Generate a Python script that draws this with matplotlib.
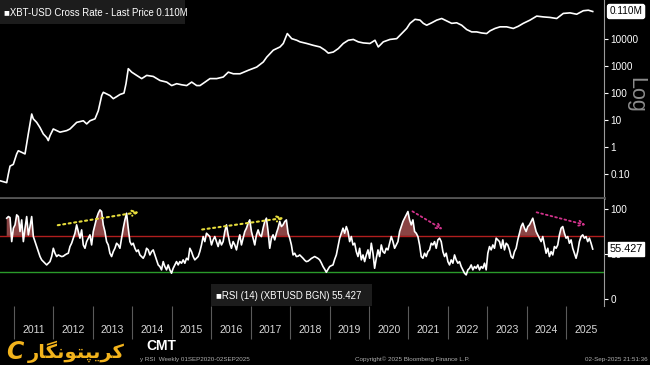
import matplotlib
matplotlib.use("Agg")
import matplotlib.pyplot as plt
from matplotlib.patches import Rectangle
import numpy as np

plt.rcParams['font.family'] = ['Liberation Sans', 'DejaVu Sans']

# XBT-USD price (decimal year, USD)
price_years = [2010.645, 2010.815, 2010.856, 2010.899, 2010.982, 2011.068, 2011.109, 2011.195,
               2011.279, 2011.362, 2011.449, 2011.489, 2011.575, 2011.659, 2011.743, 2011.829,
               2011.869, 2011.913, 2011.996, 2012.082, 2012.166, 2012.336, 2012.419, 2012.589,
               2012.757, 2012.843, 2012.926, 2013.053, 2013.137, 2013.223, 2013.264, 2013.350,
               2013.433, 2013.517, 2013.603, 2013.687, 2013.788, 2013.839, 2013.897, 2013.984,
               2014.110, 2014.237, 2014.364, 2014.531, 2014.701, 2014.871, 2014.997, 2015.124,
               2015.251, 2015.378, 2015.504, 2015.631, 2015.715, 2015.842, 2015.968, 2016.138,
               2016.305, 2016.432, 2016.559, 2016.729, 2016.939, 2017.152, 2017.319, 2017.406,
               2017.573, 2017.743, 2017.826, 2017.928, 2018.039, 2018.166, 2018.250, 2018.419,
               2018.587, 2018.757, 2018.883, 2018.967, 2019.094, 2019.221, 2019.347, 2019.474,
               2019.601, 2019.727, 2019.854, 2020.024, 2020.151, 2020.234, 2020.361, 2020.531,
               2020.701, 2020.828, 2020.954, 2021.038, 2021.165, 2021.292, 2021.375, 2021.461,
               2021.588, 2021.715, 2021.842, 2021.968, 2022.095, 2022.222, 2022.348, 2022.475,
               2022.602, 2022.729, 2022.855, 2022.982, 2023.066, 2023.193, 2023.320, 2023.489,
               2023.657, 2023.783, 2023.910, 2024.080, 2024.250, 2024.417, 2024.587, 2024.757,
               2024.924, 2025.094, 2025.264, 2025.431, 2025.558, 2025.670]
price_values = [0.054, 0.046, 0.095, 0.19, 0.22, 0.54, 0.71, 0.62,
                0.54, 3.0, 16.6, 11.0, 8.1, 5.2, 3.0, 2.2,
                1.7, 2.6, 4.6, 4.0, 3.5, 4.0, 4.6, 8.1,
                9.3, 7.1, 9.3, 11.0, 22, 81, 107, 93,
                81, 62, 74, 89, 100, 224, 813, 603,
                457, 347, 457, 417, 295, 257, 191, 224,
                204, 191, 257, 191, 191, 257, 347, 347,
                398, 603, 525, 525, 708, 933, 1445, 2188,
                3981, 5248, 7079, 16600, 10700, 9330, 8130, 7080,
                6030, 5250, 3980, 3090, 3390, 4570, 7080, 9330,
                10000, 8130, 7410, 7080, 9330, 5250, 8130, 10000,
                10700, 16600, 25700, 39800, 56200, 52500, 39800, 33900,
                41700, 52500, 60300, 49000, 39800, 41700, 33900, 23400,
                19100, 19100, 17400, 16600, 20900, 25700, 29500, 29500,
                25700, 30900, 39800, 52500, 74100, 69200, 66100, 60300,
                93300, 97700, 87100, 117500, 123000, 110000]

# RSI(14) weekly, evenly sampled from late Oct 2010 to 02 Sep 2025
rsi_start, rsi_end = 2010.815, 2025.67
rsi_values = [
    89.7, 91.5, 90.4, 63.7, 78.6, 82.3, 93.4, 91.5, 74.9, 87.8, 63.7, 78.6, 91.5, 71.2, 80.4, 91.5,
    69.3, 63.7, 58.2, 52.6, 47.1, 43.4, 41.5, 39.5, 37.8, 39.7, 41.5, 47.1, 56.3, 50.8, 47.1, 48.9,
    48.0, 47.1, 47.5, 48.9, 50.0, 50.8, 58.2, 61.9, 67.5, 73.0, 82.3, 74.9, 67.5, 76.7, 60.0, 56.3,
    63.7, 67.5, 71.2, 60.0, 74.9, 82.3, 89.7, 95.2, 98.9, 97.1, 82.3, 74.9, 63.7, 60.0, 50.8, 47.1,
    52.6, 56.3, 61.9, 60.0, 56.3, 67.5, 78.6, 87.8, 95.2, 78.6, 63.7, 60.0, 61.9, 56.3, 52.6, 54.5,
    48.9, 47.1, 45.2, 48.9, 56.3, 54.5, 48.9, 52.6, 54.5, 48.9, 43.4, 37.8,
    36.0, 32.3, 41.5, 36.0, 32.3, 37.8, 32.3, 28.6, 34.1, 37.8, 41.5, 37.8, 41.5, 39.7, 43.4, 39.7,
    45.2, 43.4, 56.3, 52.6, 47.1, 43.4, 45.2, 47.1, 52.6, 60.0, 69.3, 63.7, 73.0, 71.2, 69.3, 60.0,
    65.6, 69.3, 63.7, 58.2, 65.6, 60.0, 63.7, 74.9, 82.3, 71.2, 61.9, 56.3, 63.7, 60.0, 54.5, 63.7,
    71.2, 60.0, 67.5, 74.9, 78.6, 84.1, 87.8, 74.9, 67.5, 60.0, 71.2, 76.7, 71.2, 69.3, 78.6, 86.0,
    89.7, 74.9, 56.3, 67.5, 71.2, 65.6, 73.0, 78.6, 86.0, 80.4, 82.3, 86.0, 87.8, 73.0, 67.5, 60.0,
    48.9, 50.8, 47.1, 47.5, 48.9, 47.0, 45.2, 43.0, 41.5, 42.0, 43.4,
    45.0, 46.0, 47.1, 46.0, 45.0, 43.4, 40.0, 36.0, 33.0, 29.7, 33.0,
    36.0, 37.0, 37.8, 44.0, 48.9, 58.0, 67.5, 73.0, 78.6, 73.0, 80.4, 74.9, 63.7, 69.3, 60.0, 61.9,
    52.6, 47.1, 56.3, 43.4, 48.9, 41.5, 48.9, 54.5, 45.2, 61.9, 50.8, 34.1, 45.2, 54.5, 47.1, 60.0,
    52.6, 50.8, 56.3, 54.5, 61.9, 69.3, 63.7, 56.3, 60.0, 63.7, 74.9, 80.4, 86.0, 89.7, 93.4, 97.1,
    87.8, 82.3, 87.8, 74.9, 73.0, 69.3, 60.0, 47.1, 45.2, 50.8, 47.1, 52.6, 54.5, 61.9, 60.0, 63.7,
    56.3, 65.6, 67.5, 63.7, 52.6, 47.1, 50.8, 41.5, 37.8, 43.4, 39.7, 48.9, 43.4, 39.7, 41.5, 36.0,
    32.3, 28.6, 26.7, 32.3, 34.1, 37.8, 32.3, 36.0, 34.1, 37.8, 32.3, 36.0, 34.1, 39.7, 32.3, 50.8,
    58.2, 54.5, 60.0, 56.3, 67.5, 65.6, 63.7, 56.3, 65.6, 54.5, 61.9, 60.0, 54.5, 47.1, 45.2, 52.6,
    56.3, 65.6, 73.0, 80.4, 84.1, 78.6, 74.9, 80.4, 82.3, 86.0, 89.7, 82.3, 74.9, 71.2, 67.5, 63.7,
    69.3, 60.0, 50.8, 56.3, 47.1, 52.6, 48.9, 58.2, 56.3, 60.0, 71.2, 78.6, 80.4, 73.0, 67.5, 69.3,
    61.9, 65.6, 56.3, 50.8, 45.2, 52.6, 63.7, 69.3, 71.2, 67.5, 69.3, 63.7, 67.5, 61.9, 55.427,
]

years = list(range(2011, 2026))
price_ticks = [0.1, 1, 10, 100, 1000, 10000]
price_tick_labels = ['0.10', '1', '10', '100', '1000', '10000']
last_price_label = '0.110M'
last_price = 110000
last_rsi = 55.427

# dotted trend arrows drawn on the RSI panel: (start year, start rsi, end year, end rsi)
up_arrows = [(2012.04, 81.4, 2014.24, 97.0), (2015.70, 76.7, 2017.91, 90.4)]
down_arrows = [(2021.04, 98.9, 2021.93, 75.6), (2024.18, 97.0, 2025.56, 81.4)]

# Persian brand name, shaped by hand because matplotlib does no Arabic shaping
brand = 'کریپتونگار'
FORMS = {
    'ک': ('\uFB8E', '\uFB8F', '\uFB90', '\uFB91'),
    'ر': ('\uFEAD', '\uFEAE', None, None),
    'ی': ('\uFBFC', '\uFBFD', '\uFBFE', '\uFBFF'),
    'پ': ('\uFB56', '\uFB57', '\uFB58', '\uFB59'),
    'ت': ('\uFE95', '\uFE96', '\uFE97', '\uFE98'),
    'و': ('\uFEED', '\uFEEE', None, None),
    'ن': ('\uFEE5', '\uFEE6', '\uFEE7', '\uFEE8'),
    'گ': ('\uFB92', '\uFB93', '\uFB94', '\uFB95'),
    'ا': ('\uFE8D', '\uFE8E', None, None),
}


def shape(word):
    out = []
    for i, ch in enumerate(word):
        iso, fin, ini, med = FORMS[ch]
        prev_joins = i > 0 and FORMS[word[i - 1]][2] is not None
        next_joins = i < len(word) - 1 and ini is not None
        if prev_joins and next_joins:
            out.append(med)
        elif prev_joins:
            out.append(fin)
        elif next_joins:
            out.append(ini)
        else:
            out.append(iso)
    return ''.join(reversed(out))


W, H = 650, 365
fig = plt.figure(figsize=(W / 100, H / 100), dpi=100, facecolor='black')

axis_right = 604
ax1 = fig.add_axes([0, 1 - 198 / H, axis_right / W, 198 / H], facecolor='black')
ax2 = fig.add_axes([0, 1 - 306 / H, axis_right / W, 107 / H], facecolor='black', sharex=ax1)

# --- price panel
ax1.plot(price_years, price_values, color='white', lw=1.2)
ax1.set_yscale('log')
ax1.set_ylim(10 ** -1.91, 10 ** 5.47)
ax1.set_xlim(2010.645, 2025.956)
ax1.yaxis.tick_right()
ax1.set_yticks(price_ticks)
ax1.set_yticklabels(price_tick_labels)
ax1.yaxis.set_minor_locator(matplotlib.ticker.NullLocator())
ax1.tick_params(axis='y', colors='white', length=3, width=0.8, labelsize=7.2, pad=1.5)
ax1.tick_params(axis='x', which='both', bottom=False, labelbottom=False)
for side in ['top', 'left']:
    ax1.spines[side].set_visible(False)
ax1.spines['right'].set_color('#9a9a9a')
ax1.spines['right'].set_linewidth(0.8)
ax1.spines['bottom'].set_color('#555555')
ax1.spines['bottom'].set_linewidth(2)

ax1.add_patch(Rectangle((0, 1 - 24 / 198), 185 / axis_right, 24 / 198, transform=ax1.transAxes,
                        facecolor='#1c1c1c', edgecolor='none', zorder=3))
ax1.text(4 / axis_right, 1 - 13 / 198, '\u25A0XBT-USD Cross Rate - Last Price 0.110M',
         transform=ax1.transAxes, color='white', fontsize=6.9, va='center', ha='left', zorder=4)
ax1.annotate(last_price_label, xy=(1, last_price), xycoords=('axes fraction', 'data'),
             xytext=(4, 0), textcoords='offset points', va='center', ha='left',
             fontsize=7.2, color='black', annotation_clip=False,
             bbox=dict(boxstyle='round,pad=0.2', fc='white', ec='white'))

# --- RSI panel
rsi = np.array(rsi_values)
rsi_x = np.linspace(rsi_start, rsi_end, len(rsi))
ax2.axhline(70, color='#b01e1e', lw=1)
ax2.axhline(30, color='#2a9a2a', lw=1)
ax2.fill_between(rsi_x, 70, rsi, where=rsi > 70, interpolate=True, color='#8a4444', lw=0)
ax2.plot(rsi_x, rsi, color='white', lw=1.2)
ax2.set_ylim(-7.8, 111)
ax2.yaxis.tick_right()
ax2.set_yticks([0, 50, 100])
ax2.tick_params(axis='y', colors='white', length=3, width=0.8, labelsize=7.2, pad=1.5)
for side in ['top', 'left', 'bottom']:
    ax2.spines[side].set_visible(False)
ax2.spines['right'].set_color('#9a9a9a')
ax2.spines['right'].set_linewidth(0.8)

for x0, y0, x1, y1 in up_arrows:
    ax2.annotate('', xy=(x1, y1), xytext=(x0, y0),
                 arrowprops=dict(arrowstyle='->', color='#e6dc3c', lw=1.5, ls=':',
                                 mutation_scale=9))
for x0, y0, x1, y1 in down_arrows:
    ax2.annotate('', xy=(x1, y1), xytext=(x0, y0),
                 arrowprops=dict(arrowstyle='->', color='#d2338c', lw=1.3, ls=':',
                                 mutation_scale=9))

ax2.add_patch(Rectangle((211 / axis_right, 0), 161 / axis_right, 22 / 107, transform=ax2.transAxes,
                        facecolor='#1c1c1c', edgecolor='none', zorder=3))
ax2.text(216 / axis_right, 10 / 107, '\u25A0RSI (14) (XBTUSD BGN) 55.427',
         transform=ax2.transAxes, color='white', fontsize=6.9, va='center', ha='left', zorder=4)
ax2.annotate(f'{last_rsi:.3f}', xy=(1, last_rsi), xycoords=('axes fraction', 'data'),
             xytext=(4, 0), textcoords='offset points', va='center', ha='left',
             fontsize=7.8, color='black', annotation_clip=False,
             bbox=dict(boxstyle='square,pad=0.15', fc='white', ec='white'))

# year separators and labels
ax2.set_xticks(years)
ax2.set_xticklabels([])
ax2.set_xticks([y + 0.5 for y in years], minor=True)
ax2.set_xticklabels([str(y) for y in years], minor=True)
ax2.tick_params(axis='x', which='major', direction='out', length=24, width=0.8, color='#5a5a5a')
ax2.tick_params(axis='x', which='minor', length=0, pad=14, labelsize=7.6, labelcolor='#d8d8d8')

# --- right side and footer
fig.text(636 / W, 1 - 95 / H, 'Log', rotation=-90, fontsize=15.5, color='#8c8c8c',
         ha='center', va='center')

fig.text(15 / W, 1 - 352 / H, 'C', fontsize=17, color='#f2b31c', fontweight='bold',
         style='italic', ha='center', va='center', family=['DejaVu Sans'])
fig.text(28 / W, 1 - 352 / H, shape(brand), fontsize=14, color='#f2b31c', fontweight='bold',
         ha='left', va='center', family=['DejaVu Sans'])
fig.text(146 / W, 1 - 346 / H, 'CMT', fontsize=10, color='white', fontweight='bold',
         ha='left', va='center')
fig.text(140 / W, 1 - 359 / H, 'y RSI  Weekly 01SEP2020-02SEP2025', fontsize=4.5,
         color='#b0b0b0', ha='left', va='center')
fig.text(355 / W, 1 - 359 / H, 'Copyright\u00a9 2025 Bloomberg Finance L.P.', fontsize=4.5,
         color='#b0b0b0', ha='left', va='center')
fig.text(648 / W, 1 - 359 / H, '02-Sep-2025 21:51:36', fontsize=4.5,
         color='#b0b0b0', ha='right', va='center')

fig.savefig('out.png', dpi=100, facecolor='black')
